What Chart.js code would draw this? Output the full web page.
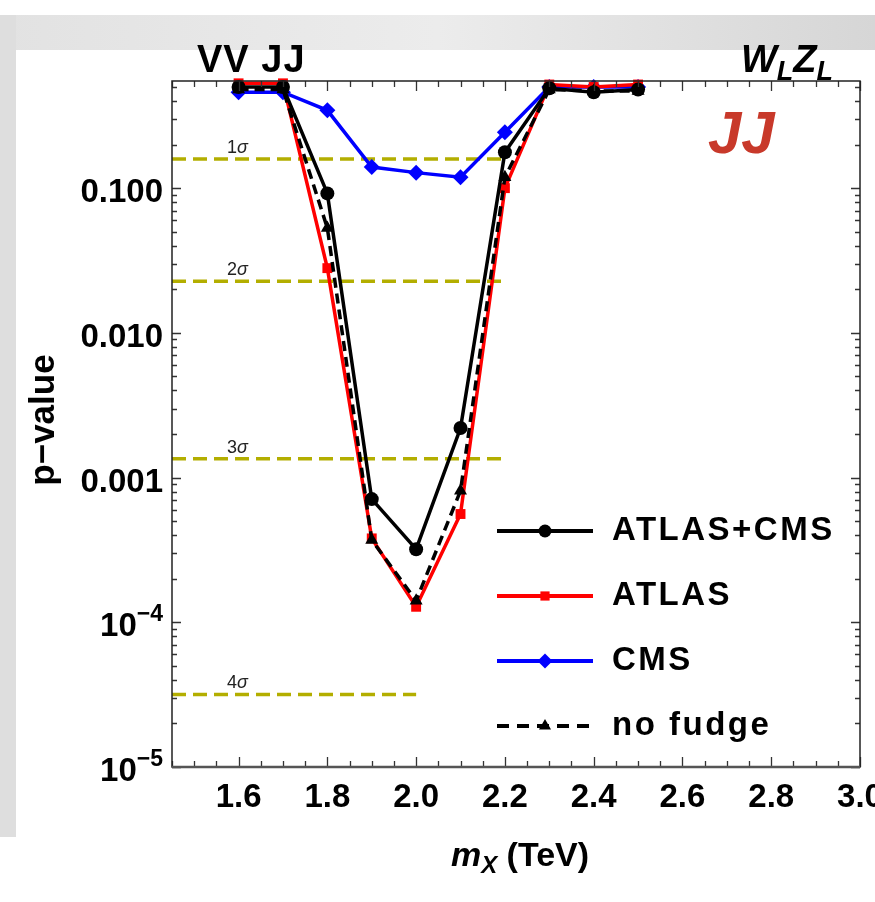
<!DOCTYPE html>
<html>
<head>
<meta charset="utf-8">
<script src="https://cdn.jsdelivr.net/npm/chart.js@4.4.1/dist/chart.umd.min.js"></script>
<style>
  html, body { margin: 0; padding: 0; background: #fff; }
  #c { display: block; }
</style>
</head>
<body>
<canvas id="c" width="875" height="902"></canvas>
<script>
// resonance mass points (TeV) and local p-values
const massTeV = [1.6, 1.7, 1.8, 1.9, 2.0, 2.1, 2.2, 2.3, 2.4, 2.5];
const pCombined = [0.50, 0.50, 0.092, 0.00071, 0.00032, 0.0022, 0.177, 0.49, 0.46, 0.48];
const pAtlas = [0.53, 0.53, 0.028, 0.00038, 0.000128, 0.00056, 0.100, 0.52, 0.50, 0.52];
const pCms = [0.46, 0.46, 0.345, 0.140, 0.128, 0.119, 0.243, 0.50, 0.50, 0.50];
const pNoFudge = [0.48, 0.48, 0.053, 0.00037, 0.000141, 0.00081, 0.119, 0.48, 0.47, 0.47];

// significance reference lines
const sigmaNames = ['1', '2', '3', '4'];
const sigmaP = [0.1587, 0.02275, 0.00135, 3.17e-5];
const sigmaXEnd = [2.2, 2.2, 2.2, 2.0];

// axes
const xMin = 1.45, xMax = 3.0;
const yMin = 1e-5, yMax = 0.55;
const xMajorTicks = [1.6, 1.8, 2.0, 2.2, 2.4, 2.6, 2.8, 3.0];
const xTickText = ['1.6', '1.8', '2.0', '2.2', '2.4', '2.6', '2.8', '3.0'];
const yMajorTicks = [0.1, 0.01, 0.001, 1e-4, 1e-5];
const yTickText = ['0.100', '0.010', '0.001', '10', '10'];
const yTickExp = ['', '', '', '\u22124', '\u22125'];

const OLIVE = '#b3ae00';
const FONT = '"Liberation Sans", Arial, sans-serif';
const pts = (ys) => massTeV.map((x, i) => ({ x, y: ys[i] }));

const sigmaSets = sigmaP.map((p, i) => ({
  label: sigmaNames[i] + 'σ',
  isSigma: true,
  data: [{ x: xMin, y: p }, { x: sigmaXEnd[i], y: p }],
  borderColor: OLIVE,
  borderWidth: 3.5,
  borderDash: [14, 7],
  pointRadius: 0,
  order: 10,
}));

const seriesSets = [
  { label: 'ATLAS+CMS', data: pts(pCombined), color: '#000000', pointStyle: 'circle', pointRadius: 7, order: 2 },
  { label: 'ATLAS', data: pts(pAtlas), color: '#ff0000', pointStyle: 'rect', pointRadius: 7, order: 3 },
  { label: 'CMS', data: pts(pCms), color: '#0000ff', pointStyle: 'rectRot', pointRadius: 8, order: 4 },
  { label: 'no fudge', data: pts(pNoFudge), color: '#000000', pointStyle: 'triangle', pointRadius: 7.5, order: 1, borderDash: [10, 6] },
].map(d => ({
  label: d.label,
  data: d.data,
  borderColor: d.color,
  backgroundColor: d.color,
  pointBackgroundColor: d.color,
  pointBorderWidth: 0,
  pointStyle: d.pointStyle,
  pointRadius: d.pointRadius,
  borderWidth: 3.5,
  borderDash: d.borderDash || [],
  order: d.order,
  clip: false,
}));

function drawText(ctx, parts, x, y, align) {
  // parts: [{t, font, dy}]
  let total = 0;
  parts.forEach(p => { ctx.font = p.font; total += ctx.measureText(p.t).width; });
  let cx = align === 'right' ? x - total : align === 'center' ? x - total / 2 : x;
  ctx.textAlign = 'left';
  parts.forEach(p => {
    ctx.font = p.font;
    ctx.fillText(p.t, cx, y + (p.dy || 0));
    cx += ctx.measureText(p.t).width;
  });
}

const bgPlugin = {
  id: 'bg',
  beforeDraw(chart) {
    const ctx = chart.ctx;
    ctx.save();
    ctx.fillStyle = '#ffffff';
    ctx.fillRect(0, 0, chart.width, chart.height);
    const g = ctx.createLinearGradient(0, 0, chart.width, 0);
    g.addColorStop(0, '#e2e2e2');
    g.addColorStop(0.5, '#ececec');
    g.addColorStop(1, '#d6d6d6');
    ctx.fillStyle = g;
    ctx.fillRect(0, 15, chart.width, 35);
    ctx.fillStyle = '#dedede';
    ctx.fillRect(0, 15, 16, 822);
    ctx.restore();
  }
};

const framePlugin = {
  id: 'frame',
  afterDraw(chart) {
    const ctx = chart.ctx;
    const a = chart.chartArea;
    const xs = chart.scales.x, ys = chart.scales.y;
    ctx.save();

    // ticks
    ctx.strokeStyle = '#333';
    ctx.lineWidth = 1.3;
    ctx.beginPath();
    for (let k = 29; k <= 60; k++) {
      const v = k * 0.05;
      const px = Math.round(xs.getPixelForValue(v)) + 0.5;
      const len = k % 4 === 0 ? 10 : 6;
      ctx.moveTo(px, a.bottom); ctx.lineTo(px, a.bottom - len);
      ctx.moveTo(px, a.top); ctx.lineTo(px, a.top + len);
    }
    for (let d = -5; d <= -1; d++) {
      for (let m = 1; m <= 9; m++) {
        const v = m * Math.pow(10, d);
        if (v > yMax) continue;
        const py = Math.round(ys.getPixelForValue(v)) + 0.5;
        const len = m === 1 ? 9 : 5;
        ctx.moveTo(a.left, py); ctx.lineTo(a.left + len, py);
        ctx.moveTo(a.right, py); ctx.lineTo(a.right - len, py);
      }
    }
    ctx.stroke();

    // frame
    ctx.strokeStyle = '#222';
    ctx.lineWidth = 1.5;
    ctx.strokeRect(a.left, a.top, a.right - a.left, a.bottom - a.top);
    ctx.strokeStyle = '#555';
    ctx.lineWidth = 2.5;
    ctx.beginPath();
    ctx.moveTo(a.left, a.bottom); ctx.lineTo(a.right, a.bottom);
    ctx.stroke();

    // tick labels
    ctx.fillStyle = '#000';
    ctx.textBaseline = 'alphabetic';
    xMajorTicks.forEach((v, i) => {
      drawText(ctx, [{ t: xTickText[i], font: 'bold 33px ' + FONT }],
        xs.getPixelForValue(v), a.bottom + 40, 'center');
    });
    yMajorTicks.forEach((v, i) => {
      const py = ys.getPixelForValue(v);
      const parts = [{ t: yTickText[i], font: 'bold 33px ' + FONT }];
      if (yTickExp[i]) parts.push({ t: yTickExp[i], font: 'bold 23px ' + FONT, dy: -15 });
      drawText(ctx, parts, a.left - 9, py + 14, 'right');
    });

    // axis titles
    drawText(ctx, [
      { t: 'm', font: 'italic bold 34px ' + FONT },
      { t: 'X', font: 'italic bold 24px ' + FONT, dy: 7 },
      { t: ' (TeV)', font: 'bold 34px ' + FONT },
    ], 520, 866, 'center');
    ctx.save();
    ctx.translate(44, 420);
    ctx.rotate(-Math.PI / 2);
    ctx.textBaseline = 'middle';
    drawText(ctx, [{ t: 'p\u2212value', font: 'bold 35px ' + FONT }], 0, 0, 'center');
    ctx.restore();

    // headings
    ctx.textBaseline = 'alphabetic';
    ctx.letterSpacing = '1px';
    drawText(ctx, [{ t: 'VV JJ', font: 'bold 38px ' + FONT }], 197, 72, 'left');
    ctx.letterSpacing = '0px';
    drawText(ctx, [
      { t: 'W', font: 'italic bold 38px ' + FONT },
      { t: 'L', font: 'italic bold 27px ' + FONT, dy: 8 },
      { t: 'Z', font: 'italic bold 38px ' + FONT },
      { t: 'L', font: 'italic bold 27px ' + FONT, dy: 8 },
    ], 833, 72, 'right');
    ctx.fillStyle = '#c8392a';
    drawText(ctx, [{ t: 'JJ', font: 'italic bold 60px ' + FONT }], 708, 153, 'left');

    // sigma labels
    ctx.fillStyle = '#222';
    sigmaP.forEach((p, i) => {
      const py = ys.getPixelForValue(p);
      drawText(ctx, [
        { t: sigmaNames[i], font: '18px ' + FONT },
        { t: 'σ', font: 'italic 18px ' + FONT },
      ], a.left + 55, py - 6, 'left');
    });

    // legend
    const legendTop = 531, legendStep = 65;
    chart.data.datasets.filter(d => !d.isSigma).forEach((d, i) => {
      const y = legendTop + i * legendStep;
      ctx.strokeStyle = d.borderColor;
      ctx.lineWidth = 4;
      ctx.setLineDash(d.borderDash.length ? [12, 8] : []);
      ctx.beginPath();
      ctx.moveTo(497, y); ctx.lineTo(593, y);
      ctx.stroke();
      ctx.setLineDash([]);
      ctx.fillStyle = d.backgroundColor;
      Chart.helpers.drawPoint(ctx, { pointStyle: d.pointStyle, radius: d.pointRadius - 0.5, rotation: 0, borderWidth: 0 }, 545, y);
      ctx.fillStyle = '#000';
      ctx.textBaseline = 'middle';
      ctx.letterSpacing = '2.5px';
      drawText(ctx, [{ t: d.label, font: 'bold 33px ' + FONT }], 612, y, 'left');
      ctx.letterSpacing = '0px';
      ctx.textBaseline = 'alphabetic';
    });

    ctx.restore();
  }
};

new Chart(document.getElementById('c'), {
  type: 'line',
  data: { datasets: [...seriesSets, ...sigmaSets] },
  options: {
    responsive: false,
    animation: false,
    devicePixelRatio: 1,
    layout: { padding: { left: 172, top: 81, right: 15, bottom: 135 } },
    elements: { line: { tension: 0 } },
    scales: {
      x: { type: 'linear', min: xMin, max: xMax, display: false },
      y: { type: 'logarithmic', min: yMin, max: yMax, display: false },
    },
    plugins: {
      legend: { display: false },
      tooltip: { enabled: false },
    },
  },
  plugins: [bgPlugin, framePlugin],
});
</script>
</body>
</html>
